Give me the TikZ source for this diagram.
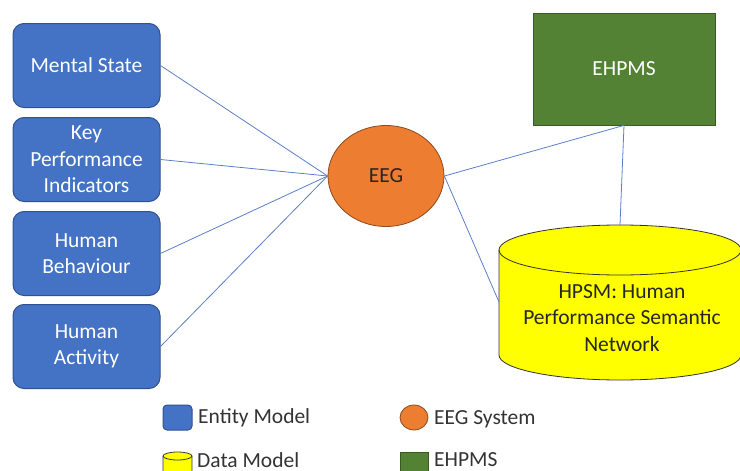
\documentclass[tikz,border=0pt]{standalone}
\usepackage{fontspec}
\setmainfont{Carlito}
\usetikzlibrary{shapes.geometric,positioning}

\definecolor{entblue}{HTML}{4472C4}
\definecolor{entedge}{HTML}{2F528F}
\definecolor{eegorange}{HTML}{ED7D31}
\definecolor{eegedge}{HTML}{8C4A1E}
\definecolor{ehgreen}{HTML}{548235}
\definecolor{ehedge}{HTML}{3A5A25}
\definecolor{dbyellow}{HTML}{FFFF00}
\definecolor{linkblue}{HTML}{5B7FC8}

\begin{document}
\begin{tikzpicture}[
    x=1pt, y=-1pt,
    font=\fontsize{21.5}{26.5}\selectfont,
    entity/.style={draw=entedge, fill=entblue, line width=1pt, rounded corners=11pt, text=white, align=center, minimum width=147pt, minimum height=84pt, inner sep=2pt},
    eegnode/.style={ellipse, draw=eegedge, fill=eegorange, line width=0.8pt, minimum width=116pt, minimum height=101pt, inner sep=0pt, text=black!85},
    ehbox/.style={draw=ehedge, fill=ehgreen, line width=0.8pt, minimum width=182pt, minimum height=112pt, text=white},
    dbshape/.style={draw=black!80, fill=dbyellow, line width=0.8pt},
    link/.style={draw=linkblue, line width=0.8pt},
    legtext/.style={anchor=west, text=black!80, inner sep=1pt}
]
\useasboundingbox (0,0) rectangle (740,471);

% entity model boxes
\node[entity] (mental) at (86.5,65.5) {Mental State};
\node[entity] (kpi) at (86.5,159.5) {Key\\Performance\\Indicators};
\node[entity] (behav) at (86.5,253.5) {Human\\Behaviour};
\node[entity] (activ) at (86.5,346.5) {Human\\Activity};

% eeg system and ehpms
\node[eegnode] (eeg) at (386,176) {EEG};
\node[ehbox] (ehpms) at (624,69) {EHPMS};

% data model (cylinder)
\draw[dbshape] (499,250) -- (499,355) arc[start angle=180, end angle=0, x radius=121, y radius=25]
  -- (741,250) arc[start angle=0, end angle=-180, x radius=121, y radius=25] -- cycle;
\draw[dbshape, fill=none] (499,250) arc[start angle=180, end angle=0, x radius=121, y radius=25];
\coordinate (hpsmtop) at (620,225);
\coordinate (hpsmwest) at (499,302);
\node[align=center, text=black!85] (hpsm) at (622,318) {HPSM: Human\\Performance Semantic\\Network};

\draw[link] (mental.east) -- (eeg.west);
\draw[link] (kpi.east) -- (eeg.west);
\draw[link] (behav.east) -- (eeg.west);
\draw[link] (activ.east) -- (eeg.west);
\draw[link] (eeg.east) -- (ehpms.south);
\draw[link] (eeg.east) -- (hpsmwest);
\draw[link] (ehpms.south) -- (hpsmtop);

% legend
\node[entity, minimum width=29pt, minimum height=25pt, rounded corners=4pt] (legent) at (177.5,417.5) {};
\node[legtext] (legenttext) at (197,418) {Entity Model};
\node[eegnode, minimum width=28pt, minimum height=25pt] (legeeg) at (414,417.5) {};
\node[legtext] (legeegtext) at (433,419) {EEG System};
\draw[dbshape] (163,456) -- (163,476) -- (192,476) -- (192,456) arc[start angle=0, end angle=-180, x radius=14.5, y radius=4] -- cycle;
\draw[dbshape, fill=none] (163,456) arc[start angle=180, end angle=0, x radius=14.5, y radius=4];
\node[legtext] (legdbtext) at (196,460) {Data Model};
\node[ehbox, minimum width=28pt, minimum height=24pt, inner sep=0pt] (legeh) at (414,464) {};
\node[legtext] (legehtext) at (433,460) {EHPMS};
\end{tikzpicture}
\end{document}
